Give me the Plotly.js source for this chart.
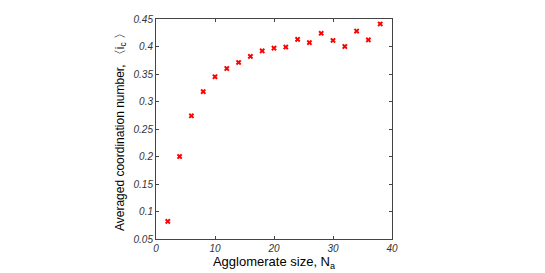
<!DOCTYPE html>
<html>
<head>
<meta charset="utf-8">
<script src="https://cdn.plot.ly/plotly-3.0.1.min.js"></script>
<style>html,body{margin:0;padding:0;background:#fff;}#chart{width:545px;height:273px;}</style>
</head>
<body>
<div id="chart"></div>
<script>
const agglomerateSize = [2, 4, 6, 8, 10, 12, 14, 16, 18, 20, 22, 24, 26, 28, 30, 32, 34, 36, 38];
const coordinationNumber = [0.082, 0.200, 0.274, 0.318, 0.345, 0.360, 0.371, 0.382, 0.392, 0.397, 0.399, 0.413, 0.407, 0.424, 0.411, 0.400, 0.428, 0.412, 0.441];
const xTicks = [0, 10, 20, 30, 40];
const yTicks = [0.05, 0.1, 0.15, 0.2, 0.25, 0.3, 0.35, 0.4, 0.45];
const yTickText = ['0.05', '0.1', '0.15', '0.2', '0.25', '0.3', '0.35', '0.4', '0.45'];

const axisCommon = {
  showgrid: false, zeroline: false, showline: true, mirror: 'ticks',
  linecolor: '#444', linewidth: 1, ticks: 'inside', ticklen: 3, tickcolor: '#444',
  tickfont: {family: 'Liberation Sans, Arial, sans-serif', size: 10, color: '#333', style: 'italic'}
};

Plotly.newPlot('chart', [{
  x: agglomerateSize, y: coordinationNumber, mode: 'markers', type: 'scatter',
  marker: {symbol: 'x', size: 5, color: '#ff0000', line: {width: 0}}
}], {
  width: 545, height: 273,
  margin: {l: 156, r: 153, t: 19, b: 34},
  paper_bgcolor: '#fff', plot_bgcolor: '#fff',
  showlegend: false,
  xaxis: Object.assign({}, axisCommon, {
    range: [0, 40], tickvals: xTicks, ticktext: xTicks.map(String),
    title: {text: 'Agglomerate size, N<sub>a</sub>', font: {family: 'Liberation Sans, Arial, sans-serif', size: 13, color: '#000'}, standoff: 3}
  }),
  yaxis: Object.assign({}, axisCommon, {
    range: [0.05, 0.45], tickvals: yTicks, ticktext: yTickText,
    title: {text: 'Averaged coordination number, 〈i<sub>c</sub> 〉', font: {family: 'Liberation Sans, Arial, sans-serif', size: 12, color: '#000'}, standoff: 6}
  })
}, {staticPlot: true});
</script>
</body>
</html>
